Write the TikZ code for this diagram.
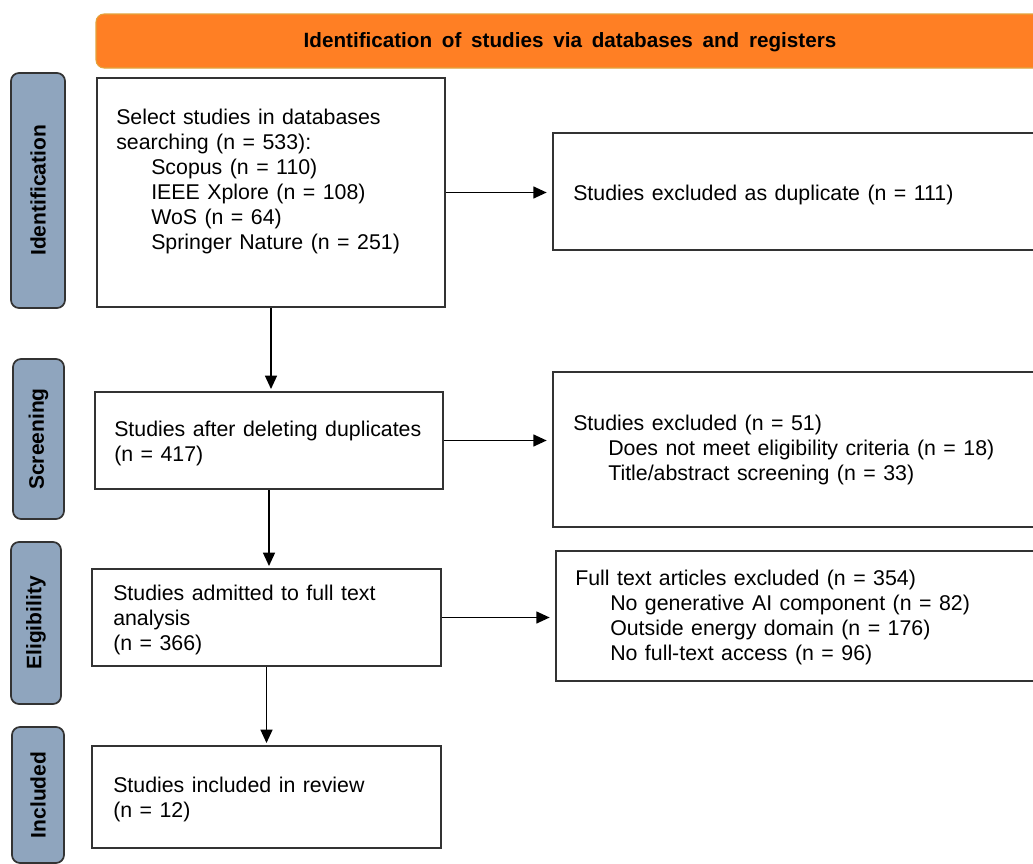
\documentclass[tikz,border=0pt]{standalone}
\usepackage{fontspec}
\setmainfont{Liberation Sans}
\usetikzlibrary{arrows.meta,fit}
\definecolor{hdrorange}{HTML}{FF7F24}
\definecolor{hdredge}{HTML}{E3A43C}
\definecolor{sidefill}{HTML}{8FA5BE}
\definecolor{boxedge}{HTML}{333333}
\newcommand\myhdrfont{\fontsize{15.5}{18}\selectfont\bfseries\spaceskip=7.3pt\relax}
\newcommand\mybodyfont{\fontsize{16}{18.75}\selectfont\spaceskip=5.6pt plus 1pt minus 1pt\relax}
\begin{document}
\begin{tikzpicture}[x=0.75pt,y=-0.75pt,
  mainbox/.style={draw=boxedge, line width=1.5pt, fill=white, inner sep=0pt},
  sidebox/.style={draw=boxedge, line width=1.3pt, fill=sidefill, rounded corners=6pt,
    font=\fontsize{15.75}{18}\selectfont\bfseries, text=black, inner sep=0pt},
  bodytext/.style={anchor=north west, inner sep=0pt, align=left, font=\mybodyfont},
  flow/.style={-{Triangle[length=10pt,width=9pt]}, line width=1pt, black, shorten >=1.5pt}
]
\useasboundingbox (0,0) rectangle (1033,864);
\clip (0,0) rectangle (1033,864);
\fill[white] (0,0) rectangle (1033,864);

% header
\node[draw=hdredge, line width=0.8pt, fill=hdrorange, rounded corners=6pt, inner sep=0pt,
  fit={(96,14)(1044,68)}] (hdr) {};
\node[inner sep=0pt, font=\myhdrfont] (hdrtext) at (570,42) {Identification of studies via databases and registers};

% side labels
\node[sidebox, rotate=90, minimum width=176.25pt, minimum height=40.5pt] (sid) at (38,190.5) {Identification};
\node[sidebox, rotate=90, minimum width=120pt, minimum height=38.25pt] (ssc) at (38.5,439) {Screening};
\node[sidebox, rotate=90, minimum width=121.5pt, minimum height=37.5pt] (sel) at (36,623) {Eligibility};
\node[sidebox, rotate=90, minimum width=102pt, minimum height=39pt] (sin) at (38,795) {Included};

% main column
\node[mainbox, fit={(97,78)(445,307)}] (b1) {};
\node[mainbox, fit={(95,392)(443,489)}] (b2) {};
\node[mainbox, fit={(92,569)(441,666)}] (b3) {};
\node[mainbox, fit={(92,746)(441,848)}] (b4) {};

% right column
\node[mainbox, fit={(553,133)(1050,250)}] (r1) {};
\node[mainbox, fit={(553,372)(1050,527)}] (r2) {};
\node[mainbox, fit={(556,551)(1050,681)}] (r3) {};

% texts
\node[bodytext] (t1) at (116,108) {\rule{0pt}{12pt}Select studies in databases\\
  searching (n = 533):\\
  \hspace*{26.25pt}Scopus (n = 110)\\
  \hspace*{26.25pt}IEEE Xplore (n = 108)\\
  \hspace*{26.25pt}WoS (n = 64)\\
  \hspace*{26.25pt}Springer Nature (n = 251)};
\node[bodytext] (t2) at (114,420.5) {\rule{0pt}{12pt}Studies after deleting duplicates\\(n = 417)};
\node[bodytext] (t3) at (113,584.5) {\rule{0pt}{12pt}Studies admitted to full text\\analysis\\(n = 366)};
\node[bodytext] (t4) at (113,776.5) {\rule{0pt}{12pt}Studies included in review\\(n = 12)};
\node[bodytext] (tr1) at (573,184.5) {\rule{0pt}{12pt}Studies excluded as duplicate (n = 111)};
\node[bodytext] (tr2) at (573,414.5) {\rule{0pt}{12pt}Studies excluded (n = 51)\\
  \hspace*{26.25pt}Does not meet eligibility criteria (n = 18)\\
  \hspace*{26.25pt}Title/abstract screening (n = 33)};
\node[bodytext] (tr3) at (575,569.5) {\rule{0pt}{12pt}Full text articles excluded (n = 354)\\
  \hspace*{26.25pt}No generative AI component (n = 82)\\
  \hspace*{26.25pt}Outside energy domain (n = 176)\\
  \hspace*{26.25pt}No full-text access (n = 96)};

% connectors
\draw[flow] (b1.south) -- (b1.south |- b2.north);
\draw[flow] (b2.south) -- (b2.south |- b3.north);
\draw[flow] (b3.south) -- (b3.south |- b4.north);
\draw[flow, shorten >=4pt] (b1.east) -- (b1.east -| r1.west);
\draw[flow, shorten >=4pt] (b2.east) -- (b2.east -| r2.west);
\draw[flow, shorten >=4pt] (b3.east) -- (b3.east -| r3.west);
\end{tikzpicture}
\end{document}
